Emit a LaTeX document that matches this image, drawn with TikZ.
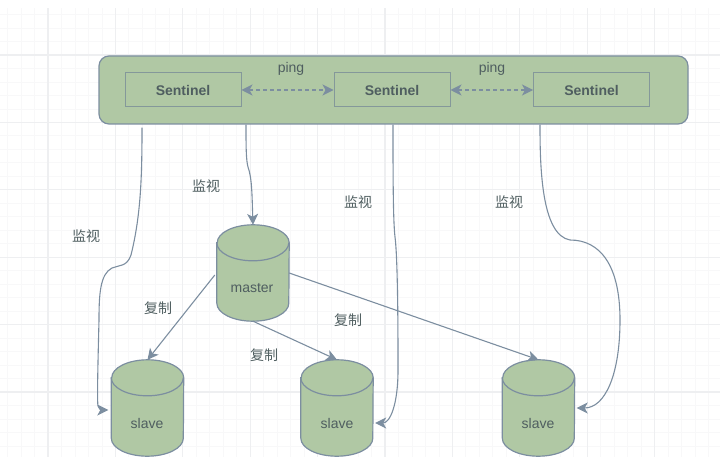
\documentclass[tikz,border=0pt]{standalone}
\usepackage{fontspec}
\setmainfont{Liberation Sans}
\newfontfamily\cjk{Noto Sans CJK SC}
\usetikzlibrary{arrows.meta,calc}
\definecolor{leaf}{HTML}{B0C8A4}
\definecolor{edge}{HTML}{7C8EA0}
\definecolor{frame}{HTML}{84989A}
\definecolor{ink}{HTML}{4F5E60}
\definecolor{gridmajor}{HTML}{EEEFF1}
\definecolor{gridminor}{HTML}{F8F8F9}
\tikzset{
  x=1pt,y=-1pt,
  band/.style={draw=edge,fill=leaf,line width=1.2pt,rounded corners=10pt,minimum width=589pt,minimum height=68pt,inner sep=0pt},
  watcher/.style={draw=frame,line width=1pt,minimum width=116pt,minimum height=34pt,inner sep=0pt,text=ink,font=\fontsize{14}{16}\selectfont\bfseries},
  store/.style={minimum width=72pt,minimum height=96pt,inner sep=0pt},
  drum/.style={draw=edge,fill=leaf,line width=1.2pt},
  link/.style={draw=edge,line width=1.1pt,-{Stealth[length=11pt,width=11pt,inset=3pt]}},
  pinglink/.style={draw=edge,line width=1.1pt,dash pattern=on 3.5pt off 3.5pt,{Stealth[length=11pt,width=11pt,inset=3pt]}-{Stealth[length=11pt,width=11pt,inset=3pt]}},
  caption/.style={text=ink,font=\fontsize{14}{16}\selectfont},
  zh/.style={text=ink,font=\fontsize{14}{16}\selectfont\cjk}
}
% cylinder body drawn over the extent of a named store node
\newcommand\drumbody[1]{%
  \draw[drum] ([yshift=-18pt]#1.north west) -- ([yshift=18pt]#1.south west)
    arc[start angle=180,end angle=360,x radius=36pt,y radius=18pt]
    -- ([yshift=-18pt]#1.north east)
    arc[start angle=0,end angle=180,x radius=36pt,y radius=18pt] -- cycle;
  \draw[edge,line width=1.2pt] ([yshift=-18pt]#1.north west)
    arc[start angle=180,end angle=360,x radius=36pt,y radius=18pt];
}
\begin{document}
\begin{tikzpicture}
\useasboundingbox (0,0) rectangle (720,457);
% background grid
\begin{scope}[line width=0.8pt]
\foreach \k in {-3,...,49}
  \draw[gridminor] ({48+13.48*\k},8) -- ({48+13.48*\k},457);
\foreach \k in {-3,...,31}
  \draw[gridminor] (0,{55+13.48*\k}) -- (720,{55+13.48*\k});
\end{scope}
\begin{scope}[line width=1.2pt]
\foreach \k in {0,...,9}
  \draw[gridmajor] ({48+67.4*\k},8) -- ({48+67.4*\k},457);
\foreach \k in {0,...,5}
  \draw[gridmajor] (0,{55+67.4*\k}) -- (720,{55+67.4*\k});
\end{scope}
% sentinel group
\node[band] (group) at (393.5,90) {};
\node[watcher] (s1) at (183,90) {Sentinel};
\node[watcher] (s2) at (392,90) {Sentinel};
\node[watcher] (s3) at (591.5,90) {Sentinel};
\draw[pinglink] (s1.east) -- (s2.west);
\draw[pinglink] (s2.east) -- (s3.west);
\node[caption] (p1) at (291,69) {ping};
\node[caption] (p2) at (492,69) {ping};
% data stores
\node[store] (master) at (253,273) {};
\node[store] (slaveA) at (147.5,408) {};
\node[store] (slaveB) at (337,408) {};
\node[store] (slaveC) at (538.5,408) {};
\drumbody{master}
\drumbody{slaveA}
\drumbody{slaveB}
\drumbody{slaveC}
\node[caption] (mt) at (252,288.5) {master};
\node[caption] (sa) at (147,423) {slave};
\node[caption] (sb) at (337,423) {slave};
\node[caption] (sc) at (538,423) {slave};
% monitoring links
\draw[link] ([yshift=-3pt]group.south -| 142,0) .. controls (142,175) and (141,215) .. (131,255)
  .. controls (127,267) and (119,265) .. (112,268)
  .. controls (100,274) and (99,295) .. (99,320)
  .. controls (98,360) and (97,400) .. (98,406)
  .. controls (98,409) and (102,410) .. ([xshift=-3pt,yshift=-2pt]slaveA.west);
\draw[link] (group.south -| 246,0) .. controls (246,145) and (246,160) .. (248,167)
  .. controls (252,178) and (252,195) .. (master.north);
\draw[link] (group.south -| 393,0) .. controls (393,170) and (393,220) .. (395,237)
  .. controls (398,260) and (398,340) .. (398,370)
  .. controls (398,405) and (390,423) .. ([xshift=2pt,yshift=-15pt]slaveB.east);
\draw[link] (group.south -| 540,0) .. controls (540,165) and (541,235) .. (570,240)
  .. controls (600,240) and (620,265) .. (620,320)
  .. controls (620,375) and (605,408) .. ([xshift=2pt]slaveC.east);
% replication links
\draw[link] ([xshift=-2pt,yshift=-2pt]master.west) -- (slaveA.north);
\draw[link] (master.south) -- (slaveB.north);
\draw[link] (master.east) -- (slaveC.north);
% link captions
\node[zh] (w1) at (206,186.5) {监视};
\node[zh] (w2) at (358,202.5) {监视};
\node[zh] (w3) at (509,202.5) {监视};
\node[zh] (w4) at (86,236.5) {监视};
\node[zh] (r1) at (158,308.5) {复制};
\node[zh] (r2) at (264,355.5) {复制};
\node[zh] (r3) at (348,320.5) {复制};
\end{tikzpicture}
\end{document}
